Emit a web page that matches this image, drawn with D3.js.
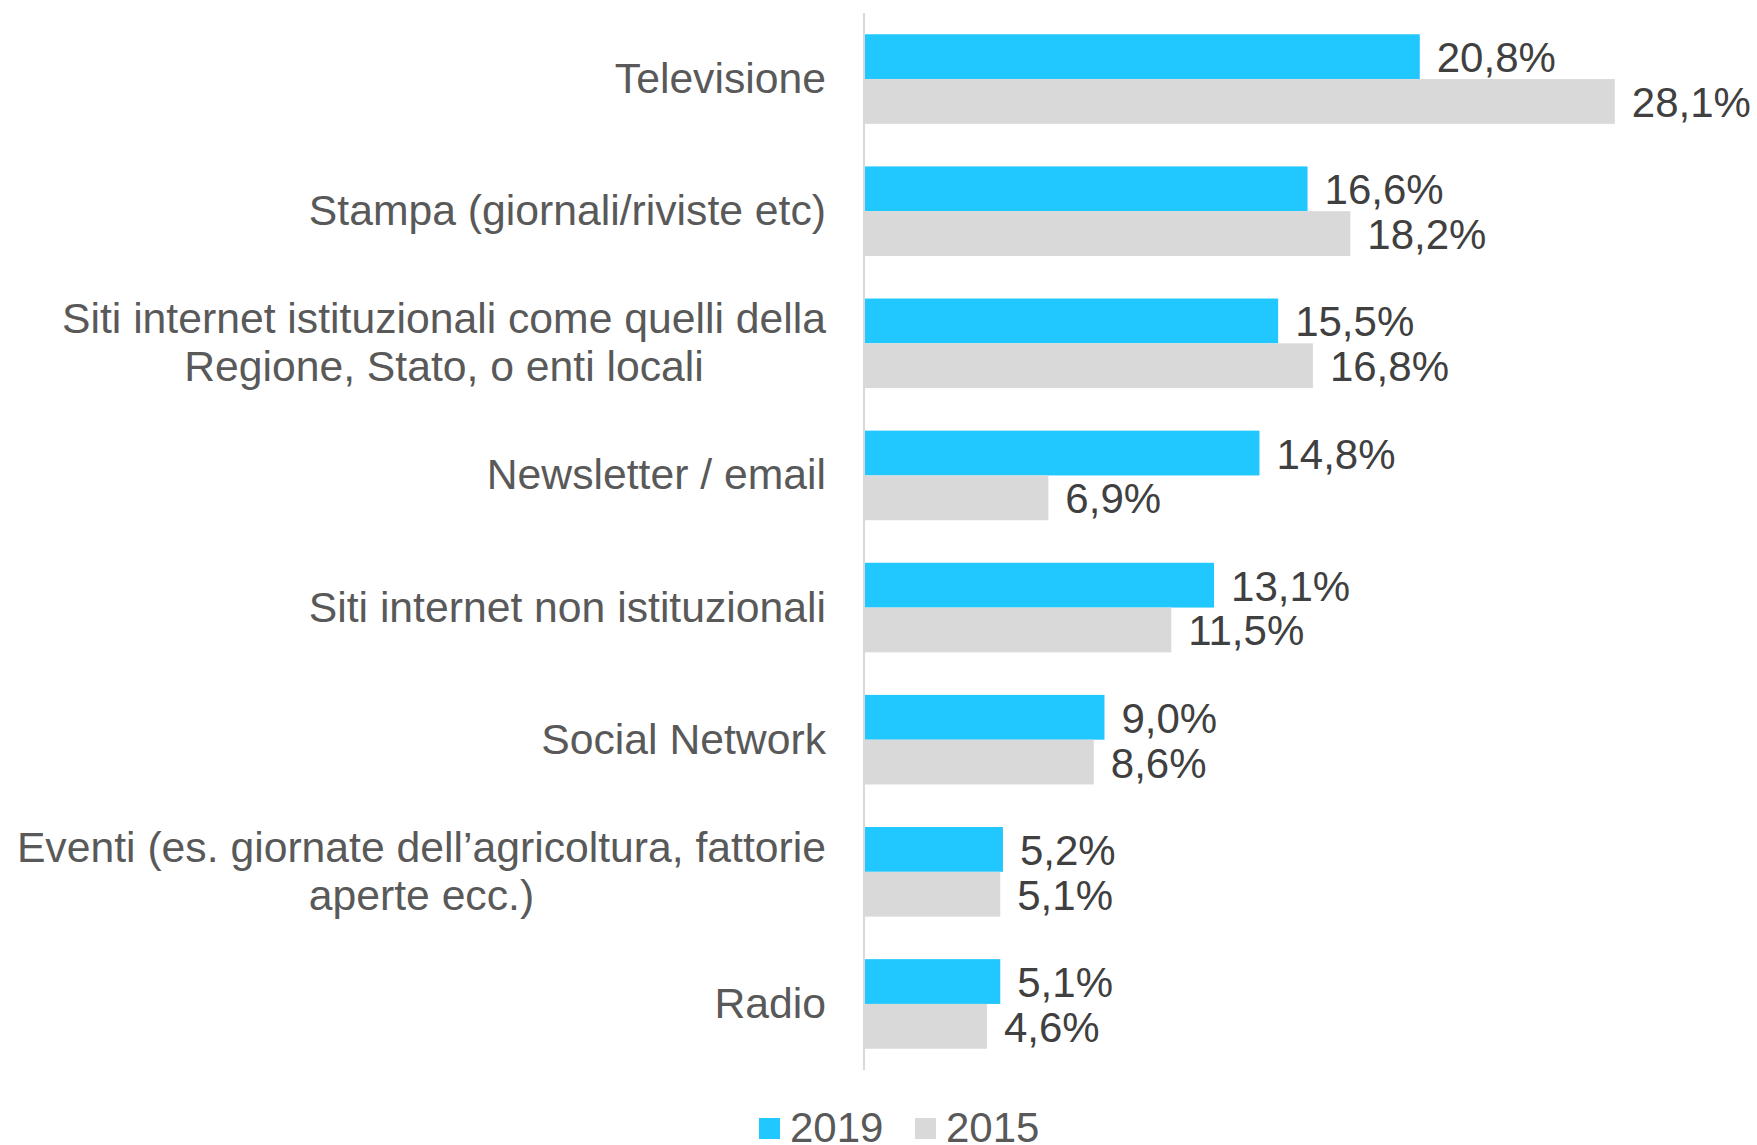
<!DOCTYPE html>
<html lang="en">
<head>
	<meta charset="utf-8">
	<title>Fonti di informazione 2019 vs 2015</title>
	<script src="https://cdn.jsdelivr.net/npm/d3@7"></script>
	<style>
		body { margin: 0; background: #fff; }
		text { font-family: "Liberation Sans", Arial, sans-serif; }
	</style>
</head>
<body>
	<script>
		// data
		var categories = [
			"Televisione",
			"Stampa (giornali/riviste etc)",
			"Siti internet istituzionali come quelli della|Regione, Stato, o enti locali",
			"Newsletter / email",
			"Siti internet non istituzionali",
			"Social Network",
			"Eventi (es. giornate dell\u2019agricoltura, fattorie|aperte ecc.)",
			"Radio"
		];
		var series = ["2019", "2015"];
		var values2019 = [20.8, 16.6, 15.5, 14.8, 13.1, 9.0, 5.2, 5.1];
		var values2015 = [28.1, 18.2, 16.8, 6.9, 11.5, 8.6, 5.1, 4.6];
		var colors = ["#21C7FF", "#D9D9D9"];

		var w = 1757, h = 1145;
		var axisX = 864;
		var plotTop = 13, plotBottom = 1070;

		var svg = d3.select("body").append("svg")
			.attr("width", w)
			.attr("height", h);

		// scales
		var xScale = d3.scaleLinear()
			.domain([0, 30])
			.range([axisX, axisX + 30 * 26.72]);

		var y0 = d3.scaleBand()
			.domain(categories)
			.range([plotTop, plotBottom])
			.paddingInner(0.322)
			.paddingOuter(0.161);

		var y1 = d3.scaleBand()
			.domain(series)
			.range([0, y0.bandwidth()]);

		var color = d3.scaleOrdinal().domain(series).range(colors);
		var fmt = function (v) { return d3.format(".1f")(v).replace(".", ",") + "%"; };

		var rows = categories.map(function (c, i) {
			return { cat: c, vals: [
				{ s: "2019", v: values2019[i] },
				{ s: "2015", v: values2015[i] }
			] };
		});

		var groups = svg.selectAll("g.cat")
			.data(rows)
			.enter()
			.append("g")
			.attr("class", "cat")
			.attr("transform", function (d) { return "translate(0," + y0(d.cat) + ")"; });

		// bars
		groups.selectAll("rect")
			.data(function (d) { return d.vals; })
			.enter()
			.append("rect")
			.attr("x", xScale(0))
			.attr("y", function (d) { return y1(d.s); })
			.attr("width", function (d) { return xScale(d.v) - xScale(0); })
			.attr("height", y1.bandwidth())
			.attr("fill", function (d) { return color(d.s); });

		// value labels
		groups.selectAll("text.val")
			.data(function (d) { return d.vals; })
			.enter()
			.append("text")
			.attr("class", "val")
			.attr("x", function (d) { return xScale(d.v) + 17; })
			.attr("y", function (d) { return y1(d.s) + y1.bandwidth() / 2 + 1; })
			.attr("dominant-baseline", "central")
			.attr("font-size", "42px")
			.attr("fill", "#404040")
			.text(function (d) { return fmt(d.v); });

		// category axis line
		svg.append("line")
			.attr("x1", axisX).attr("x2", axisX)
			.attr("y1", plotTop).attr("y2", plotBottom)
			.attr("stroke", "#D9D9D9")
			.attr("stroke-width", 2);

		// category labels (multi-line ones are centred as a block, block right-aligned)
		var labelRight = 826;
		var lineH = 48;
		categories.forEach(function (c) {
			var lines = c.split("|");
			var cy = y0(c) + y0.bandwidth() / 2 - 1;
			var t = svg.append("text")
				.attr("font-size", "42.7px")
				.attr("fill", "#595959")
				.attr("text-anchor", "middle")
				.attr("dominant-baseline", "central");
			lines.forEach(function (l, i) {
				t.append("tspan")
					.attr("y", cy + (i - (lines.length - 1) / 2) * lineH)
					.text(l);
			});
			var maxW = 0;
			t.selectAll("tspan").each(function () {
				maxW = Math.max(maxW, this.getComputedTextLength());
			});
			t.selectAll("tspan").attr("x", labelRight - maxW / 2);
		});

		// legend
		var legendX = [759, 915];
		var legend = svg.selectAll("g.legend")
			.data(series)
			.enter()
			.append("g")
			.attr("class", "legend")
			.attr("transform", function (d, i) { return "translate(" + legendX[i] + ",1118)"; });

		legend.append("rect")
			.attr("width", 21)
			.attr("height", 21)
			.attr("fill", function (d) { return color(d); });

		legend.append("text")
			.attr("x", 31)
			.attr("y", 9)
			.attr("dominant-baseline", "central")
			.attr("font-size", "42px")
			.attr("fill", "#595959")
			.text(function (d) { return d; });
	</script>
</body>
</html>
